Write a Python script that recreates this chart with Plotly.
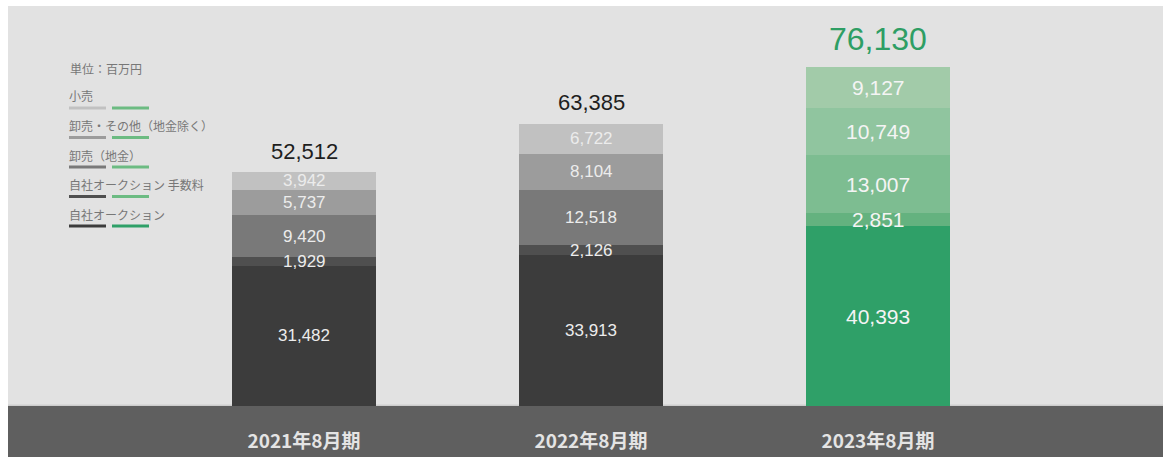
import plotly.graph_objects as go

# Fiscal periods and sales breakdown (million yen)
categories = ["2021年8月期", "2022年8月期", "2023年8月期"]
auction = [31482, 33913, 40393]          # 自社オークション
auction_fee = [1929, 2126, 2851]         # 自社オークション 手数料
wholesale_gold = [9420, 12518, 13007]    # 卸売（地金）
wholesale_other = [5737, 8104, 10749]    # 卸売・その他（地金除く）
retail = [3942, 6722, 9127]              # 小売
totals = [52512, 63385, 76130]

series_names = ["自社オークション", "自社オークション 手数料", "卸売（地金）",
                "卸売・その他（地金除く）", "小売"]
series_values = [auction, auction_fee, wholesale_gold, wholesale_other, retail]

# past periods in grey, latest period in green
grey_shades = ["#3c3c3c", "#4f4f4f", "#797979", "#9c9c9c", "#c1c1c1"]
green_shades = ["#2fa068", "#64b27f", "#7dbd91", "#90c59f", "#a2cba9"]

W, H = 1163, 457
ML, MR, MT, MB = 8, 0, 6, 51
PW, PH = W - ML - MR, H - MT - MB
YMAX = 89800

fig = go.Figure()
for i, (name, vals) in enumerate(zip(series_names, series_values)):
    colors = [grey_shades[i], grey_shades[i], green_shades[i]]
    fig.add_trace(go.Bar(
        x=categories, y=vals, name=name, width=0.502,
        marker=dict(color=colors, line=dict(width=0)),
        showlegend=False, hoverinfo="skip",
    ))

annotations = []
# segment value labels, centred in each segment
for j, cat in enumerate(categories):
    base = 0
    latest = j == len(categories) - 1
    for vals in series_values:
        v = vals[j]
        mid = base + v / 2
        base += v
        annotations.append(dict(
            x=cat, y=mid, xref="x", yref="y", text=f"{v:,}", showarrow=False,
            font=dict(family="Liberation Sans, Arial", size=21 if latest else 17,
                      color="#f4f4f4" if latest else "#ececec"),
            xanchor="center", yanchor="middle",
        ))
    annotations.append(dict(
        x=cat, y=totals[j], xref="x", yref="y", text=f"{totals[j]:,}",
        showarrow=False, yanchor="middle", yshift=28 if latest else 21,
        font=dict(family="Liberation Sans, Arial", size=32 if latest else 22,
                  color="#2e9e64" if latest else "#1e1e1e"),
    ))


def px_x(p):
    return (p - ML) / PW


def px_y(p):
    return (MT + PH - p) / PH


legend_font = dict(family="Noto Sans CJK JP", size=12, color="#777777")
annotations.append(dict(x=px_x(68), y=px_y(68), xref="paper", yref="paper",
                        text="単位：百万円", showarrow=False, xanchor="left",
                        yanchor="middle", font=legend_font))

shapes = [
    # dark band under the bars
    dict(type="rect", xref="paper", yref="paper", x0=0, x1=1,
         y0=-MB / PH, y1=0, fillcolor="#5f5f5f", line=dict(width=0), layer="below"),
    dict(type="line", xref="paper", yref="paper", x0=0, x1=1, y0=0.002, y1=0.002,
         line=dict(color="#cdcdcd", width=1.5), layer="below"),
]

legend_rows = [("小売", 4), ("卸売・その他（地金除く）", 3), ("卸売（地金）", 2),
               ("自社オークション 手数料", 1), ("自社オークション", 0)]
for k, (label, idx) in enumerate(legend_rows):
    ty = 96 + k * 29.5
    ly = ty + 12
    annotations.append(dict(x=px_x(67), y=px_y(ty), xref="paper", yref="paper",
                            text=label, showarrow=False, xanchor="left",
                            yanchor="middle", font=legend_font))
    shapes.append(dict(type="line", xref="paper", yref="paper",
                       x0=px_x(69), x1=px_x(106), y0=px_y(ly), y1=px_y(ly),
                       line=dict(color=grey_shades[idx], width=3)))
    shapes.append(dict(type="line", xref="paper", yref="paper",
                       x0=px_x(112), x1=px_x(149), y0=px_y(ly), y1=px_y(ly),
                       line=dict(color=green_shades[0] if idx == 0 else "#6cbb82", width=3)))

fig.update_layout(
    width=W, height=H,
    margin=dict(l=ML, r=MR, t=MT, b=MB, pad=0),
    paper_bgcolor="#ffffff", plot_bgcolor="#e2e2e2",
    barmode="stack", bargap=0,
    xaxis=dict(type="category", categoryorder="array", categoryarray=categories,
               range=[-1.0314, 2.993], showgrid=False, zeroline=False,
               showline=False, ticks="", ticklabelstandoff=22,
               tickfont=dict(family="Noto Sans CJK JP", size=19, color="#e4e4e4",
                             weight="bold"),
               fixedrange=True),
    yaxis=dict(range=[0, YMAX], visible=False, fixedrange=True),
    annotations=annotations, shapes=shapes,
    font=dict(family="Liberation Sans, Arial"),
)

fig.write_html("out.html")
